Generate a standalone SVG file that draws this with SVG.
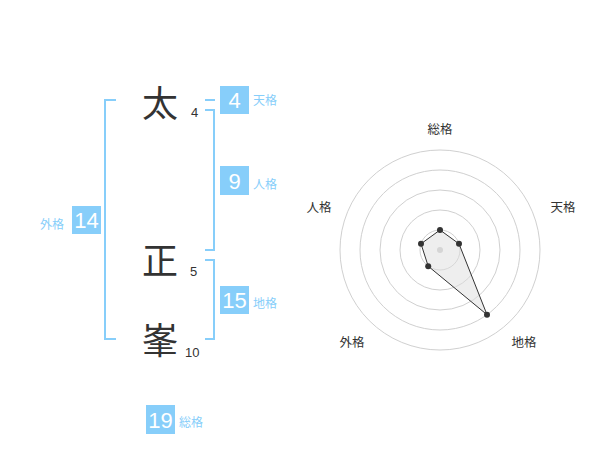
<svg xmlns="http://www.w3.org/2000/svg" width="600" height="470" viewBox="0 0 600 470">
<style>
.ch{font-family:"Noto Sans CJK JP","Noto Sans CJK SC",sans-serif;font-size:36px;fill:#333;text-anchor:middle}
.sn{font-family:"Liberation Sans",Arial,sans-serif;font-size:13px;fill:#333}
.br{fill:none;stroke:#87cefa;stroke-width:2}
.bx{fill:#87cefa}
.bn{font-family:"Liberation Sans",Arial,sans-serif;font-size:22px;fill:#fff;text-anchor:middle}
.lb{font-family:"Noto Sans CJK JP","Noto Sans CJK SC",sans-serif;font-size:12px;fill:#87cefa}
.ax{font-family:"Noto Sans CJK JP","Noto Sans CJK SC",sans-serif;font-size:12.5px;fill:#333;text-anchor:middle}
.gr{fill:none;stroke:#d0d0d0;stroke-width:1}
</style>
<rect width="600" height="470" fill="#fff"/>
<g id="chars">
<text class="ch" x="160" y="117">太</text>
<text class="sn" x="191" y="117">4</text>
<text class="ch" x="160" y="274">正</text>
<text class="sn" x="190" y="276">5</text>
<text class="ch" x="160" y="354">峯</text>
<text class="sn" x="185" y="357">10</text>
</g>
<g id="connectors">
<path class="br" d="M116,100 H105 V339 H116"/>
<path class="br" d="M205,100 H215"/>
<path class="br" d="M205,110 H214 V250 H205"/>
<path class="br" d="M205,260 H214 V339 H205"/>
</g>
<g id="gaikaku">
<rect class="bx" x="72" y="206" width="29" height="28"/>
<text class="bn" x="86.5" y="228">14</text>
<text class="lb" x="40" y="229">外格</text>
</g>
<g id="tenkaku">
<rect class="bx" x="220" y="86" width="29" height="28"/>
<text class="bn" x="234.5" y="108">4</text>
<text class="lb" x="253" y="105">天格</text>
</g>
<g id="jinkaku">
<rect class="bx" x="220" y="166" width="29" height="29"/>
<text class="bn" x="234.5" y="188.5">9</text>
<text class="lb" x="253" y="189">人格</text>
</g>
<g id="chikaku">
<rect class="bx" x="220" y="286" width="29" height="28"/>
<text class="bn" x="234.5" y="308">15</text>
<text class="lb" x="253" y="308">地格</text>
</g>
<g id="soukaku">
<rect class="bx" x="146" y="405" width="29" height="29"/>
<text class="bn" x="160.5" y="427.5">19</text>
<text class="lb" x="179" y="427">総格</text>
</g>
<g id="radar">
<circle class="gr" cx="440" cy="250" r="100"/>
<circle class="gr" cx="440" cy="250" r="80"/>
<circle class="gr" cx="440" cy="250" r="60"/>
<circle class="gr" cx="440" cy="250" r="40"/>
<circle class="gr" cx="440" cy="250" r="20"/>
<circle cx="440" cy="250" r="3" fill="#ccc"/>
<polygon points="440,230 459,243.8 487,314.7 428.2,266.2 421,243.8" fill="#ddd" fill-opacity="0.5" stroke="#333" stroke-width="1"/>
<g fill="#333">
<circle cx="440" cy="230" r="3"/>
<circle cx="459" cy="243.8" r="3"/>
<circle cx="487" cy="314.7" r="3"/>
<circle cx="428.2" cy="266.2" r="3"/>
<circle cx="421" cy="243.8" r="3"/>
</g>
<text class="ax" x="440" y="134">総格</text>
<text class="ax" x="563" y="212">天格</text>
<text class="ax" x="319" y="212">人格</text>
<text class="ax" x="352" y="347">外格</text>
<text class="ax" x="524" y="347">地格</text>
</g>
</svg>
